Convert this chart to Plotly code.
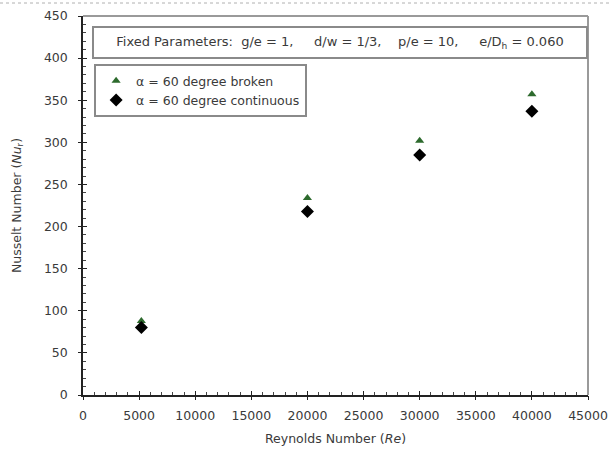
import plotly.graph_objects as go

# Data
reynolds = [5200, 20000, 30000, 40000]
nu_broken = [88, 234, 302, 357]
nu_continuous = [80, 218, 285, 337]
series_names = ["α = 60 degree broken", "α = 60 degree continuous"]
x_ticks = [0, 5000, 10000, 15000, 20000, 25000, 30000, 35000, 40000, 45000]
y_ticks = [0, 50, 100, 150, 200, 250, 300, 350, 400, 450]

FONT = "DejaVu Sans"
TXT = "#3a3a3a"
FS = 12.5

fig = go.Figure()
fig.add_trace(go.Scatter(
    x=reynolds, y=nu_broken, mode="markers", name=series_names[0],
    marker=dict(symbol="triangle-up", size=8, color="#2d6a2d"),
))
fig.add_trace(go.Scatter(
    x=reynolds, y=nu_continuous, mode="markers", name=series_names[1],
    marker=dict(symbol="diamond", size=10, color="#000000"),
))
# invisible trace carrying the overlay axes that make the ticks cross the axis lines
fig.add_trace(go.Scatter(x=[None], y=[None], xaxis="x2", yaxis="y2",
                         showlegend=False, hoverinfo="skip"))

NB = "&nbsp;"
param_text = ("Fixed Parameters:" + NB * 2 + "g/e = 1," + NB * 5 + "d/w = 1/3," + NB * 4
              + "p/e = 10," + NB * 5 + "e/D<sub>h</sub> = 0.060")

fig.update_layout(
    width=609, height=454,
    margin=dict(l=83, r=21, t=16, b=59, autoexpand=False),
    paper_bgcolor="white", plot_bgcolor="white",
    font=dict(family=FONT, size=FS, color=TXT),
    showlegend=True,
    legend=dict(
        x=0.022, y=0.873, xanchor="left", yanchor="top",
        bgcolor="white", bordercolor="#8a8a8a", borderwidth=2,
        font=dict(family=FONT, size=FS, color=TXT),
        itemwidth=30, tracegroupgap=0,
    ),
    xaxis=dict(
        range=[0, 45000], tickvals=x_ticks, ticktext=[str(v) for v in x_ticks],
        ticks="inside", ticklen=4, tickcolor="#222", tickwidth=1,
        minor=dict(dtick=1000, ticks="inside", ticklen=3, tickcolor="#444"),
        showline=True, linecolor="#222", linewidth=1.5,
        showgrid=False, zeroline=False, automargin=False,
        ticklabelstandoff=8,
        tickfont=dict(family=FONT, size=FS, color=TXT),
        title=dict(text="Reynolds Number (<i>Re</i>)", standoff=12,
                   font=dict(family=FONT, size=FS, color=TXT)),
    ),
    yaxis=dict(
        range=[0, 450], tickvals=y_ticks, ticktext=[str(v) for v in y_ticks],
        ticks="inside", ticklen=4, tickcolor="#222", tickwidth=1,
        minor=dict(dtick=10, ticks="inside", ticklen=3, tickcolor="#444"),
        showline=True, linecolor="#222", linewidth=1.5,
        showgrid=False, zeroline=False, automargin=False,
        ticklabelstandoff=11,
        tickfont=dict(family=FONT, size=FS, color=TXT),
        title=dict(text="Nusselt Number (<i>Nu</i><sub>r</sub>)", standoff=20,
                   font=dict(family=FONT, size=FS, color=TXT)),
    ),
    xaxis2=dict(
        overlaying="x", range=[0, 45000], tickvals=x_ticks, showticklabels=False,
        ticks="outside", ticklen=4, tickcolor="#222", showgrid=False,
        zeroline=False, showline=False,
    ),
    yaxis2=dict(
        overlaying="y", range=[0, 450], tickvals=y_ticks, showticklabels=False,
        ticks="outside", ticklen=4, tickcolor="#222", showgrid=False,
        zeroline=False, showline=False,
    ),
    annotations=[dict(
        x=0.508, y=0.931, xref="paper", yref="paper",
        xanchor="center", yanchor="middle",
        text=param_text,
        showarrow=False, bordercolor="#8a8a8a", borderwidth=2, borderpad=6,
        bgcolor="white", width=480,
        font=dict(family=FONT, size=13, color=TXT),
    )],
    shapes=[
        dict(type="line", xref="paper", yref="paper", x0=0, x1=1, y0=1, y1=1,
             line=dict(color="#9a9a9a", width=2)),
        dict(type="line", xref="paper", yref="paper", x0=1, x1=1, y0=0, y1=1,
             line=dict(color="#9a9a9a", width=2)),
        # dotted frame line along the top of the image
        dict(type="line", xref="paper", yref="paper",
             x0=-83 / 505, x1=526 / 505, y0=1 + 13 / 379, y1=1 + 13 / 379,
             line=dict(color="#b0b0b0", width=1, dash="dot")),
    ],
)

fig.write_html("out.html", config={"displayModeBar": False},
               post_script="document.body.style.margin='0px';")
